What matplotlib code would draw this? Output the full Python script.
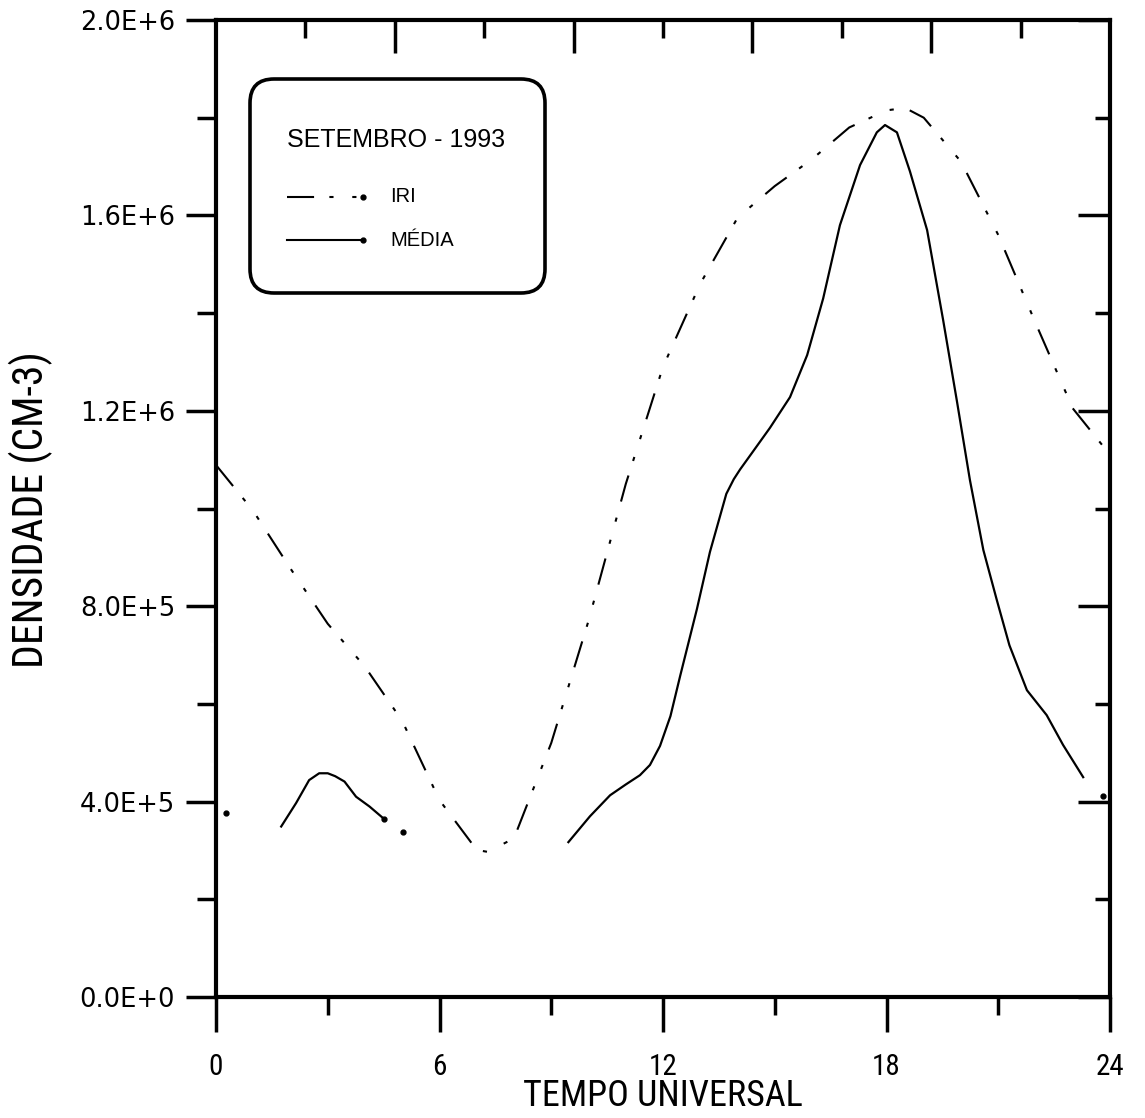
import matplotlib
matplotlib.use("Agg")
import matplotlib.pyplot as plt
from matplotlib.patches import FancyBboxPatch
from matplotlib.lines import Line2D
from matplotlib.transforms import IdentityTransform

plt.rcParams['lines.scale_dashes'] = False

# ---------------- data ----------------
iri_hours = [0, 1, 2, 3, 4, 5, 6, 7, 7.3, 8, 9, 10, 11, 12, 13, 14, 15, 16,
             17, 18, 18.5, 19, 20, 21, 22, 23, 24]
iri_values = [1.089e6, 9.95e5, 8.77e5, 7.64e5, 6.76e5, 5.65e5, 4.03e5, 3.01e5,
              2.97e5, 3.25e5, 5.2e5, 7.7e5, 1.05e6, 1.29e6, 1.46e6, 1.595e6,
              1.66e6, 1.715e6, 1.78e6, 1.815e6, 1.82e6, 1.80e6, 1.71e6,
              1.56e6, 1.38e6, 1.205e6, 1.11e6]

media1_hours = [1.75, 2.15, 2.5, 2.77, 3.0, 3.2, 3.45, 3.76, 4.12, 4.52]
media1_values = [3.49e5, 3.97e5, 4.44e5, 4.58e5, 4.58e5, 4.52e5, 4.41e5,
                 4.10e5, 3.90e5, 3.64e5]

media2_hours = [9.46, 10.04, 10.58, 11.0, 11.38, 11.65, 11.92, 12.2, 12.46,
                12.91, 13.26, 13.7, 13.9, 14.07, 14.4, 14.87, 15.41, 15.87,
                16.3, 16.75, 17.29, 17.74, 17.96, 18.28, 18.63, 19.09, 19.52,
                19.89, 20.24, 20.6, 20.96, 21.3, 21.77, 22.3, 22.74, 23.28]
media2_values = [3.17e5, 3.70e5, 4.13e5, 4.35e5, 4.54e5, 4.75e5, 5.14e5,
                 5.75e5, 6.57e5, 7.94e5, 9.11e5, 1.03e6, 1.06e6, 1.08e6,
                 1.115e6, 1.165e6, 1.228e6, 1.314e6, 1.43e6, 1.58e6, 1.703e6,
                 1.77e6, 1.785e6, 1.77e6, 1.69e6, 1.57e6, 1.386e6, 1.22e6,
                 1.058e6, 9.15e5, 8.13e5, 7.2e5, 6.28e5, 5.77e5, 5.16e5, 4.5e5]

media_dots_hours = [0.27, 5.03, 23.8]
media_dots_values = [3.76e5, 3.37e5, 4.11e5]

x_major = [0, 6, 12, 18, 24]
x_minor = [3, 9, 15, 21]
x_labels = ['0', '6', '12', '18', '24']
y_major = [0, 4e5, 8e5, 1.2e6, 1.6e6, 2.0e6]
y_minor = [2e5, 6e5, 1.0e6, 1.4e6, 1.8e6]
y_labels = ['0.0E+0', '4.0E+5', '8.0E+5', '1.2E+6', '1.6E+6', '2.0E+6']
top_long = [4.8, 9.6, 14.4, 19.2]
top_short = [2.4, 7.2, 12.0, 16.8, 21.6]

title_text = 'SETEMBRO - 1993'
legend_labels = ['IRI', 'MÉDIA']
xlabel = 'TEMPO UNIVERSAL'
ylabel = 'DENSIDADE (CM-3)'

# ---------------- figure ----------------
W, H = 1145, 1118
fig = plt.figure(figsize=(W / 100, H / 100), dpi=100)
L, R, T, B = 216, 1110, 20, 997
ax = fig.add_axes([L / W, 1 - B / H, (R - L) / W, (B - T) / H])
ax.set_xlim(0, 24)
ax.set_ylim(0, 2e6)

narrow = ['Roboto Condensed', 'Liberation Sans']
IRI_DASH = (0, (19.5, 11, 3, 13.5, 3, 12))

ax.plot(iri_hours, iri_values, color='black', lw=1.5, linestyle=IRI_DASH)
ax.plot(media1_hours, media1_values, color='black', lw=1.6)
ax.plot(media1_hours[-1:], media1_values[-1:], 'o', color='black', ms=3.5)
ax.plot(media2_hours, media2_values, color='black', lw=1.6)
ax.plot(media_dots_hours, media_dots_values, 'o', color='black', ms=3.5,
        linestyle='none')

for s in ax.spines.values():
    s.set_linewidth(3)

# bottom / left ticks (outside)
ax.set_xticks(x_major)
ax.set_xticks(x_minor, minor=True)
ax.set_xticklabels(x_labels)
ax.set_yticks(y_major)
ax.set_yticks(y_minor, minor=True)
ax.set_yticklabels(y_labels)
for lbl in ax.get_xticklabels():
    lbl.set_family(narrow)
    lbl.set_fontsize(21)
for lbl in ax.get_yticklabels():
    lbl.set_family(['DejaVu Sans'])
    lbl.set_fontsize(18.5)
ax.tick_params(axis='x', which='major', direction='out', length=25, width=2.5,
               pad=15)
ax.tick_params(axis='x', which='minor', direction='out', length=13, width=2.5)
ax.tick_params(axis='y', which='major', direction='out', length=21.5, width=2.5,
               pad=8)
ax.tick_params(axis='y', which='minor', direction='out', length=14, width=2.5)

# right ticks (inside)
axr = ax.twinx()
axr.set_ylim(0, 2e6)
axr.set_yticks(y_major)
axr.set_yticks(y_minor, minor=True)
axr.tick_params(axis='y', which='major', direction='in', length=23, width=2.5,
                labelright=False)
axr.tick_params(axis='y', which='minor', direction='in', length=11, width=2.5)
for s in axr.spines.values():
    s.set_visible(False)

# top ticks (inside)
axt = ax.twiny()
axt.set_xlim(0, 24)
axt.set_xticks(top_long)
axt.set_xticks(top_short, minor=True)
axt.tick_params(axis='x', which='major', direction='in', length=24, width=2.5,
                labeltop=False)
axt.tick_params(axis='x', which='minor', direction='in', length=13, width=2.5)
for s in axt.spines.values():
    s.set_visible(False)

# axis labels
fig.text(663 / W, 1 - 1096 / H, xlabel, ha='center', va='center',
         family=narrow, fontsize=26)
fig.text(31 / W, 1 - 510 / H, ylabel, ha='center', va='center', rotation=90,
         family=narrow, fontsize=30)

# legend box (pixel coordinates)
def px(x, y):
    return x, H - y

box_x0, box_y0, box_x1, box_y1 = 250, 79, 545, 293
bx, by = px(box_x0, box_y1)
box = FancyBboxPatch((bx, by), box_x1 - box_x0, box_y1 - box_y0,
                     boxstyle='round,pad=0,rounding_size=24',
                     transform=IdentityTransform(), facecolor='white',
                     edgecolor='black', linewidth=2.6, zorder=5)
fig.patches.append(box)

tx, ty = px(287, 140)
fig.text(tx / W, ty / H, title_text, ha='left', va='center',
         family='Liberation Sans', fontsize=18, zorder=6)

for i, (lab, ls) in enumerate(zip(legend_labels, [IRI_DASH, '-'])):
    yy = [197, 240][i]
    x0, y0 = px(287, yy)
    x1, _ = px(363, yy)
    ln = Line2D([x0, x1], [y0, y0], transform=IdentityTransform(),
                color='black', lw=1.5, linestyle=ls, zorder=6)
    fig.lines.append(ln)
    dot = Line2D([x1], [y0], transform=IdentityTransform(), marker='o',
                 ms=3.5, color='black', linestyle='none', zorder=6)
    fig.lines.append(dot)
    lx, ly = px(390, yy)
    fig.text(lx / W, ly / H, lab, ha='left', va='center',
             family='Liberation Sans', fontsize=14.5, zorder=6)

fig.savefig('out.png', dpi=100)
